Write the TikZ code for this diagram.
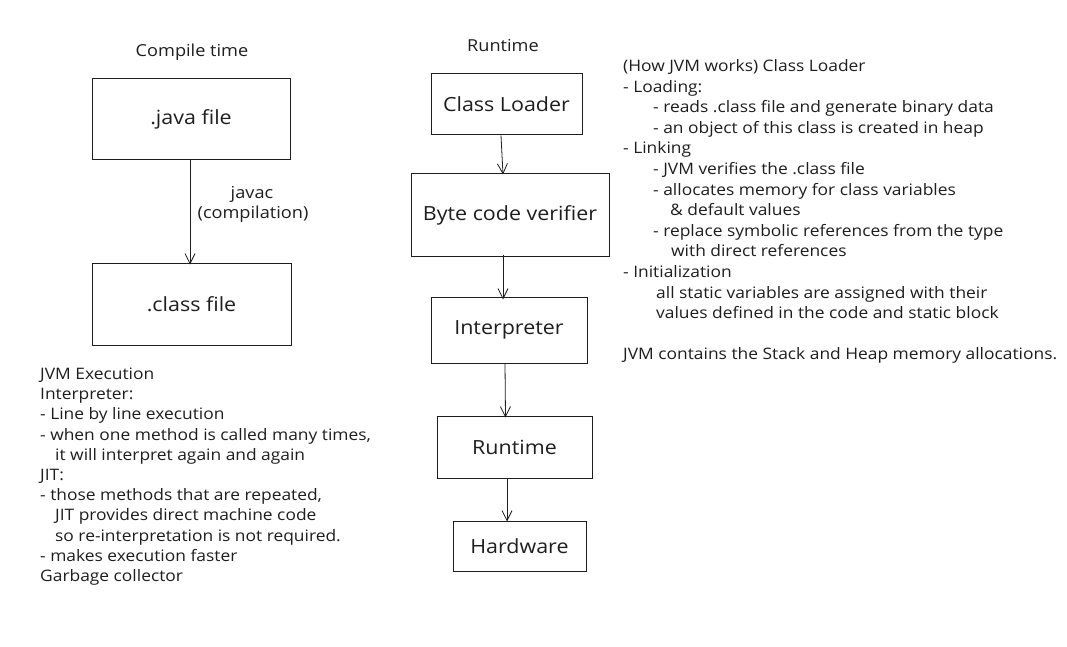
\documentclass[tikz,border=0pt]{standalone}
\usepackage{fontspec}
\setmainfont[FakeStretch=1.1]{Open Sans}
\usetikzlibrary{arrows.meta}
\definecolor{ink}{HTML}{1E1E1E}
\begin{document}
\begin{tikzpicture}[x=1pt,y=-1pt,
  box/.style={draw=ink, line width=1pt, inner sep=0pt, text=ink, font=\fontsize{19.5}{23}\selectfont},
  arr/.style={draw=ink, line width=0.8pt, -{Straight Barb[length=10pt,width=10pt,line width=0.8pt]}},
  txt/.style={anchor=base west, inner sep=0pt, text=ink, font=\fontsize{15.8}{19}\selectfont},
  ttl/.style={anchor=base, inner sep=0pt, text=ink, font=\fontsize{16.5}{20}\selectfont}]
\useasboundingbox[fill=white] (0,0) rectangle (1067,647);

% ---- Compile time column ----
\node[ttl] (ctitle) at (192,57) {Compile time};
\node[box, minimum width=198pt, minimum height=81pt] (java) at (191,119.5) {.java file};
\node[box, minimum width=199pt, minimum height=82pt] (class) at (191.5,304) {.class file};
\draw[arr] ([xshift=-1pt]java.south) -- ([xshift=-1.5pt,yshift=-2pt]class.north);
\node[ttl, font=\fontsize{16.5}{19}\selectfont] (javac) at (252,198) {javac};
\node[ttl, font=\fontsize{16.5}{19}\selectfont] (compil) at (253,218) {(compilation)};

% ---- Runtime column ----
\node[ttl] (rtitle) at (503,52) {Runtime};
\node[box, minimum width=151pt, minimum height=61pt] (cl) at (506.5,104.5) {Class Loader};
\node[box, minimum width=198pt, minimum height=82pt] (bcv) at (510,215) {Byte code verifier};
\node[box, minimum width=156pt, minimum height=66pt] (interp) at (509,330) {Interpreter};
\node[box, minimum width=155pt, minimum height=62pt] (rt) at (514.5,447) {Runtime};
\node[box, minimum width=133pt, minimum height=50pt] (hw) at (519.5,546) {Hardware};

\draw[arr] ([xshift=-5.5pt]cl.south) -- ([xshift=-7pt,yshift=-1pt]bcv.north);
\draw[arr] ([xshift=-7pt,yshift=2pt]bcv.south) -- ([xshift=-6pt,yshift=-3pt]interp.north);
\draw[arr] ([xshift=-4pt]interp.south) -- ([xshift=-9pt,yshift=-2pt]rt.north);
\draw[arr] ([xshift=-7.5pt]rt.south) -- ([xshift=-12.5pt,yshift=-1pt]hw.north);

% ---- Right notes ----
\node[txt] (r0)  at (623,71.5)  {(How JVM works) Class Loader};
\node[txt] (r1)  at (623,92.1)  {- Loading:};
\node[txt] (r2)  at (653,112.7) {- reads .class file and generate binary data};
\node[txt] (r3)  at (653,133.3) {- an object of this class is created in heap};
\node[txt] (r4)  at (623,153.9) {- Linking};
\node[txt] (r5)  at (653,174.5) {- JVM verifies the .class file};
\node[txt] (r6)  at (653,195.1) {- allocates memory for class variables};
\node[txt] (r7)  at (670,215.7) {\& default values};
\node[txt] (r8)  at (653,236.3) {- replace symbolic references from the type};
\node[txt] (r9)  at (671,256.9) {with direct references};
\node[txt] (r10) at (623,277.5) {- Initialization};
\node[txt] (r11) at (656,298.1) {all static variables are assigned with their};
\node[txt] (r12) at (656,318.7) {values defined in the code and static block};
\node[txt] (r13) at (623,359.9) {JVM contains the Stack and Heap memory allocations.};

% ---- Left notes ----
\node[txt] (l0)  at (40,379.5) {JVM Execution};
\node[txt] (l1)  at (40,399.7) {Interpreter:};
\node[txt] (l2)  at (40,419.9) {- Line by line execution};
\node[txt] (l3)  at (40,440.1) {- when one method is called many times,};
\node[txt] (l4)  at (55,460.3) {it will interpret again and again};
\node[txt] (l5)  at (40,480.5) {JIT:};
\node[txt] (l6)  at (40,500.7) {- those methods that are repeated,};
\node[txt] (l7)  at (55,520.9) {JIT provides direct machine code};
\node[txt] (l8)  at (55,541.1) {so re-interpretation is not required.};
\node[txt] (l9)  at (40,561.3) {- makes execution faster};
\node[txt] (l10) at (40,581.5) {Garbage collector};
\end{tikzpicture}
\end{document}
